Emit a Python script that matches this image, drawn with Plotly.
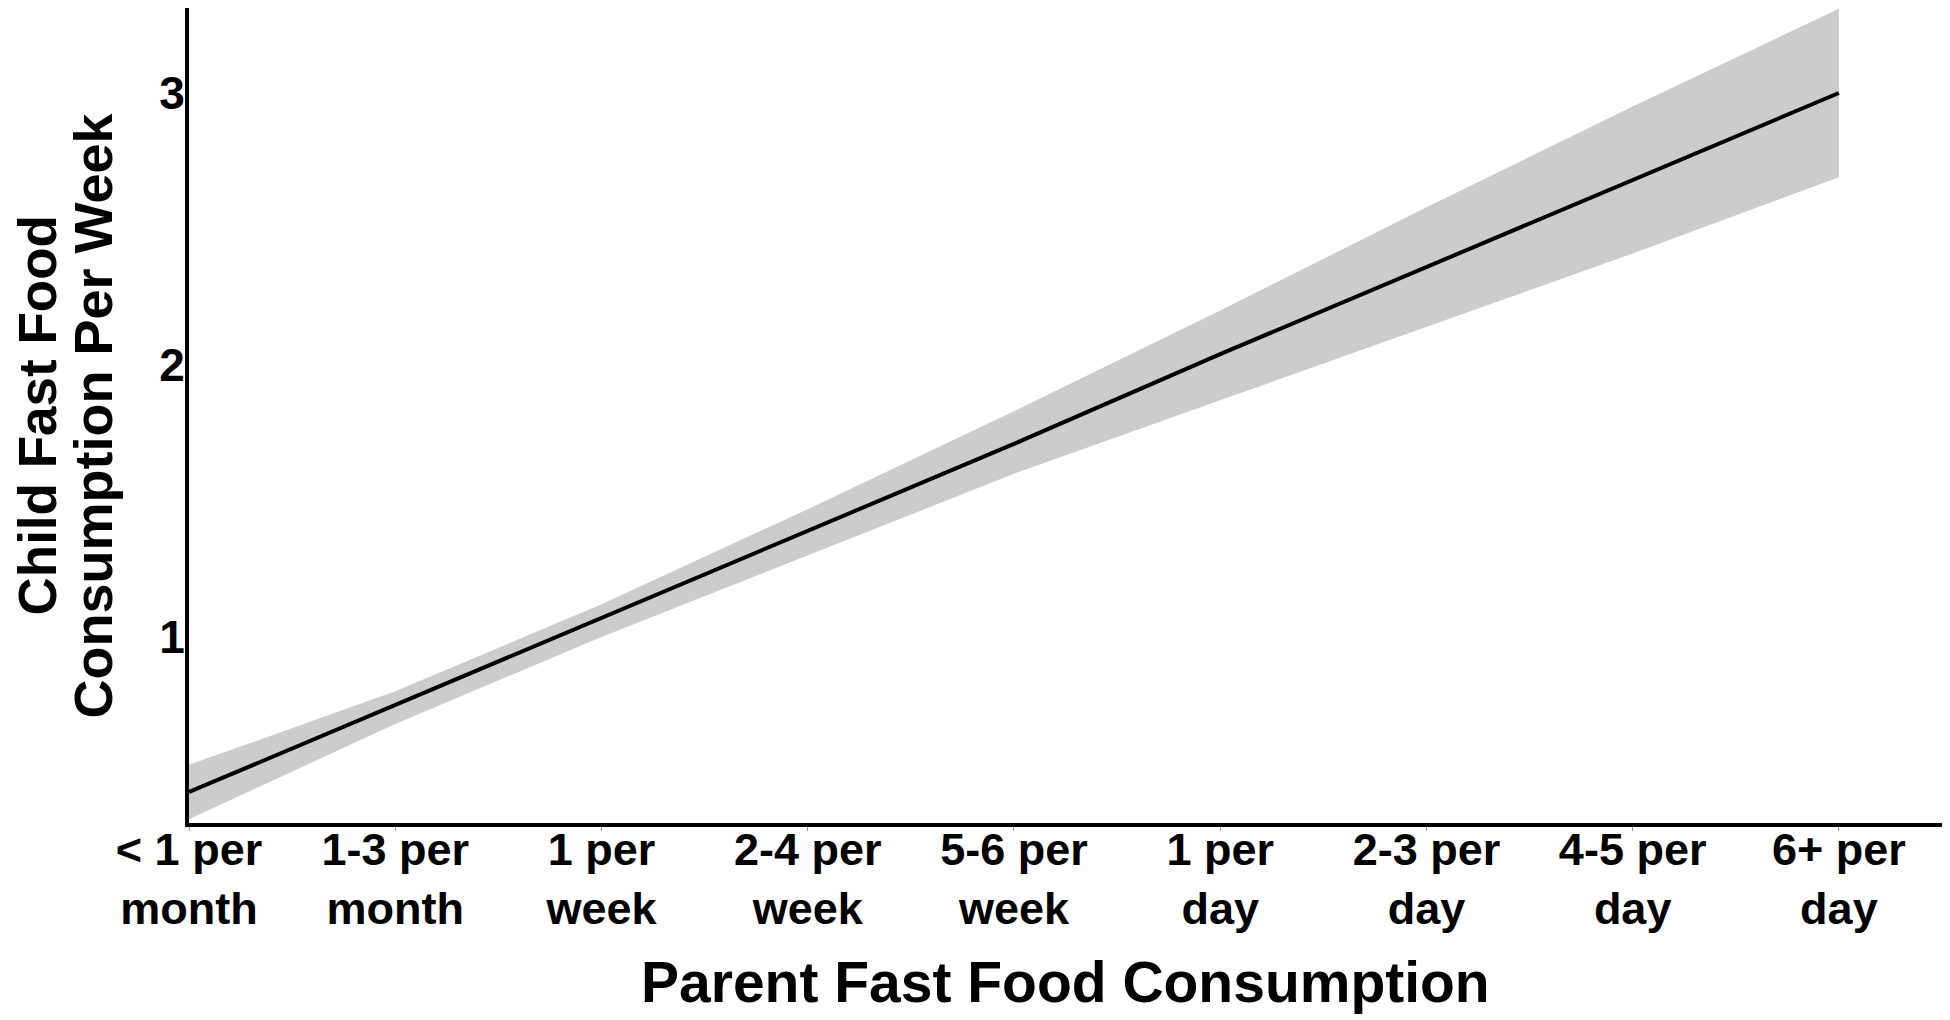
import plotly.graph_objects as go

categories = ["< 1 per month", "1-3 per month", "1 per week", "2-4 per week",
              "5-6 per week", "1 per day", "2-3 per day", "4-5 per day", "6+ per day"]
tick_labels = ["&lt; 1 per<br>month", "1-3 per<br>month", "1 per<br>week", "2-4 per<br>week",
               "5-6 per<br>week", "1 per<br>day", "2-3 per<br>day", "4-5 per<br>day", "6+ per<br>day"]
fitted = [0.43, 0.75, 1.07, 1.39, 1.71, 2.04, 2.36, 2.68, 3.00]
upper = [0.53, 0.80, 1.12, 1.47, 1.83, 2.20, 2.58, 2.95, 3.31]
lower = [0.33, 0.68, 1.00, 1.30, 1.60, 1.87, 2.14, 2.41, 2.69]
y_ticks = [1, 2, 3]

FONT = "Liberation Sans, Arial, Helvetica, sans-serif"

W, H = 1942, 1012
L, R, T, B = 181, 8, 0, 197
PW = W - L - R
PH = H - T - B

fig = go.Figure()
fig.add_trace(go.Scatter(x=categories, y=lower, mode="lines", line=dict(width=0, color="#cccccc"),
                         showlegend=False, hoverinfo="skip"))
fig.add_trace(go.Scatter(x=categories, y=upper, mode="lines", line=dict(width=0, color="#cccccc"),
                         fill="tonexty", fillcolor="#cccccc", showlegend=False, hoverinfo="skip"))
fig.add_trace(go.Scatter(x=categories, y=fitted, mode="lines", line=dict(width=4, color="black"),
                         showlegend=False))

fig.update_layout(
    width=W, height=H,
    margin=dict(l=L, r=R, t=T, b=B),
    paper_bgcolor="white", plot_bgcolor="white",
    font=dict(family=FONT, color="black"),
    xaxis=dict(
        type="category", categoryorder="array", categoryarray=categories,
        range=[0, 8.5], tickvals=categories, ticktext=tick_labels,
        showgrid=False, zeroline=False, showline=True, linecolor="black", linewidth=4,
        ticks="outside", ticklen=4, tickwidth=1, tickcolor="#999999",
        ticklabelstandoff=-20,
        tickfont=dict(family=FONT, size=45, color="black", weight="bold"),
    ),
    yaxis=dict(
        range=[0.316, 3.3125], tickvals=y_ticks, ticktext=[str(v) for v in y_ticks],
        showgrid=False, zeroline=False, showline=True, linecolor="black", linewidth=4,
        ticks="", ticklabelstandoff=-9,
        tickfont=dict(family=FONT, size=46, color="black", weight="bold"),
    ),
)

fig.add_annotation(text="Parent Fast Food Consumption", xref="paper", yref="paper",
                   x=0.5, y=(PH - 974) / PH, xanchor="center", yanchor="middle", showarrow=False,
                   font=dict(family=FONT, size=57, color="black", weight="bold"))
fig.add_annotation(text="Child Fast Food", textangle=-90, xref="paper", yref="paper",
                   x=(29 - L) / PW, y=0.5, xanchor="center", yanchor="middle", showarrow=False,
                   font=dict(family=FONT, size=53, color="black", weight="bold"))
fig.add_annotation(text="Consumption Per Week", textangle=-90, xref="paper", yref="paper",
                   x=(84 - L) / PW, y=0.5, xanchor="center", yanchor="middle", showarrow=False,
                   font=dict(family=FONT, size=54, color="black", weight="bold"))

fig.write_html("out.html")
